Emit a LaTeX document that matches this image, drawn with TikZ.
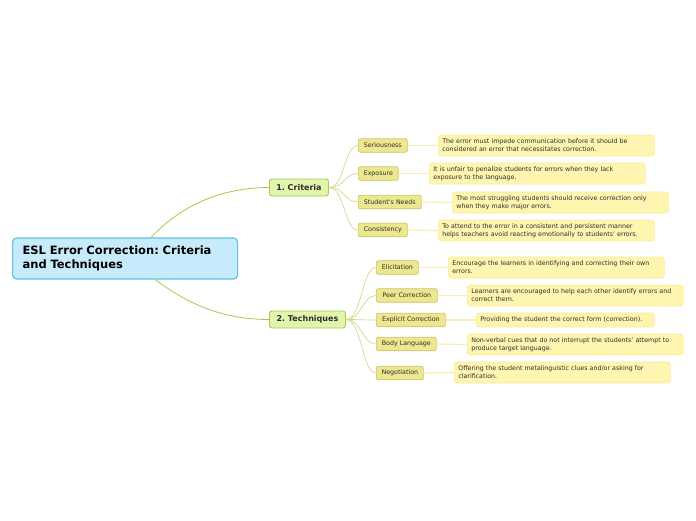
\documentclass[tikz,border=0pt]{standalone}
\usepackage{fontspec}
\setmainfont{DejaVu Sans}
\frenchspacing
\definecolor{rootfill}{HTML}{C6EBFB}
\definecolor{rootdraw}{HTML}{62C0E9}
\definecolor{brfill}{HTML}{E2F5AE}
\definecolor{brdraw}{HTML}{A8C94E}
\definecolor{lffill}{HTML}{EDE78F}
\definecolor{lfdraw}{HTML}{CBC468}
\definecolor{dsfill}{HTML}{FDF5B0}
\definecolor{dsdraw}{HTML}{F9EC9A}
\definecolor{c1}{HTML}{A9C84A}
\definecolor{c2}{HTML}{D6D68A}
\definecolor{c3}{HTML}{FBEEA6}
\definecolor{txt}{HTML}{2E2E2E}
\tikzset{
  rootbox/.style={draw=rootdraw, fill=rootfill, line width=1.2pt, rounded corners=4pt, anchor=west,
    minimum width=225pt, minimum height=41pt, text width=205pt, align=left, inner xsep=10pt,
    font=\fontsize{11.5}{14}\selectfont\bfseries, text=black},
  brbox/.style={draw=brdraw, fill=brfill, line width=0.9pt, rounded corners=2.5pt, anchor=west,
    minimum height=17pt, inner xsep=0pt, font=\fontsize{8}{9}\selectfont\bfseries, text=txt},
  lfbox/.style={draw=lfdraw, fill=lffill, line width=0.7pt, rounded corners=2pt, anchor=west,
    minimum height=13.5pt, inner xsep=0pt, font=\fontsize{6.3}{7.5}\selectfont, text=txt},
  dsbox/.style={draw=dsdraw, fill=dsfill, line width=0.7pt, rounded corners=3pt, anchor=west,
    minimum width=216pt, minimum height=21pt, text width=208pt, inner xsep=4pt, inner ysep=1.5pt, align=left,
    font=\fontsize{6.3}{8}\selectfont, text=txt},
  l1/.style={draw=c1, line width=0.8pt},
  l2/.style={draw=c2, line width=0.7pt},
  l3/.style={draw=c3, line width=1.2pt},
}
\begin{document}
\begin{tikzpicture}[x=1pt,y=-1pt]
\useasboundingbox (0,0) rectangle (696,520);
% root
\node[rootbox] (root) at (12,258.5) {ESL Error Correction: Criteria\\and Techniques};
% branches
\node[brbox, minimum width=59pt] (crit) at (269,187.5) {1. Criteria};
\node[brbox, minimum width=76pt] (tech) at (269,319.5) {2. Techniques};
% criteria leaves
\node[lfbox, minimum width=49pt] (ser) at (358,145.5) {Seriousness};
\node[lfbox, minimum width=40pt] (exp) at (358,173.5) {Exposure};
\node[lfbox, minimum width=63pt] (sn) at (358,202) {Student's Needs};
\node[lfbox, minimum width=49pt] (con) at (358,230) {Consistency};
% technique leaves
\node[lfbox, minimum width=42pt] (eli) at (376,267.5) {Elicitation};
\node[lfbox, minimum width=61pt] (peer) at (376,295.5) {Peer Correction};
\node[lfbox, minimum width=69pt] (expl) at (376,320) {Explicit Correction};
\node[lfbox, minimum width=60pt] (body) at (376,344) {Body Language};
\node[lfbox, minimum width=47pt] (neg) at (376,373) {Negotiation};
% descriptions
\node[dsbox] (dser) at (438,145.5) {The error must impede communication before it should be\\considered an error that necessitates correction.};
\node[dsbox] (dexp) at (429,173.5) {It is unfair to penalize students for errors when they lack\\exposure to the language.};
\node[dsbox] (dsn) at (452,202.5) {The most struggling students should receive correction only\\when they make major errors.};
\node[dsbox] (dcon) at (438,230.5) {To attend to the error in a consistent and persistent manner\\helps teachers avoid reacting emotionally to students' errors.};
\node[dsbox] (deli) at (448,267.5) {Encourage the learners in identifying and correcting their own\\errors.};
\node[dsbox] (dpeer) at (467,295.5) {Learners are encouraged to help each other identify errors and\\correct them.};
\node[dsbox, minimum width=178pt, text width=170pt, minimum height=14pt] (dexpl) at (476,320) {Providing the student the correct form (correction).};
\node[dsbox] (dbody) at (467,344.5) {Non-verbal cues that do not interrupt the students' attempt to\\produce target language.};
\node[dsbox] (dneg) at (454,372.5) {Offering the student metalinguistic clues and/or asking for\\clarification.};
% connectors root -> branches
\coordinate (rt) at ([xshift=26pt]root.north);
\coordinate (rb) at ([xshift=30pt]root.south);
\draw[l1] (rt) .. controls +(28,-30) and +(-50,0) .. (crit.west);
\draw[l1] (rb) .. controls +(30,22) and +(-50,0) .. (tech.west);
% branches -> leaves
\foreach \n in {ser,exp,sn,con}
  \draw[l2] (crit.east) .. controls +(16,0) and +(-14,0) .. (\n.west);
\foreach \n in {eli,peer,expl,body,neg}
  \draw[l2] (tech.east) .. controls +(16,0) and +(-14,0) .. (\n.west);
% leaves -> descriptions
\draw[l3] (ser.east) -- (dser.west);
\draw[l3] (exp.east) -- (dexp.west);
\draw[l3] (sn.east) -- (dsn.west);
\draw[l3] (con.east) -- (dcon.west);
\draw[l3] (eli.east) -- (deli.west);
\draw[l3] (peer.east) -- (dpeer.west);
\draw[l3] (expl.east) -- (dexpl.west);
\draw[l3] (body.east) -- (dbody.west);
\draw[l3] (neg.east) -- (dneg.west);
\end{tikzpicture}
\end{document}
